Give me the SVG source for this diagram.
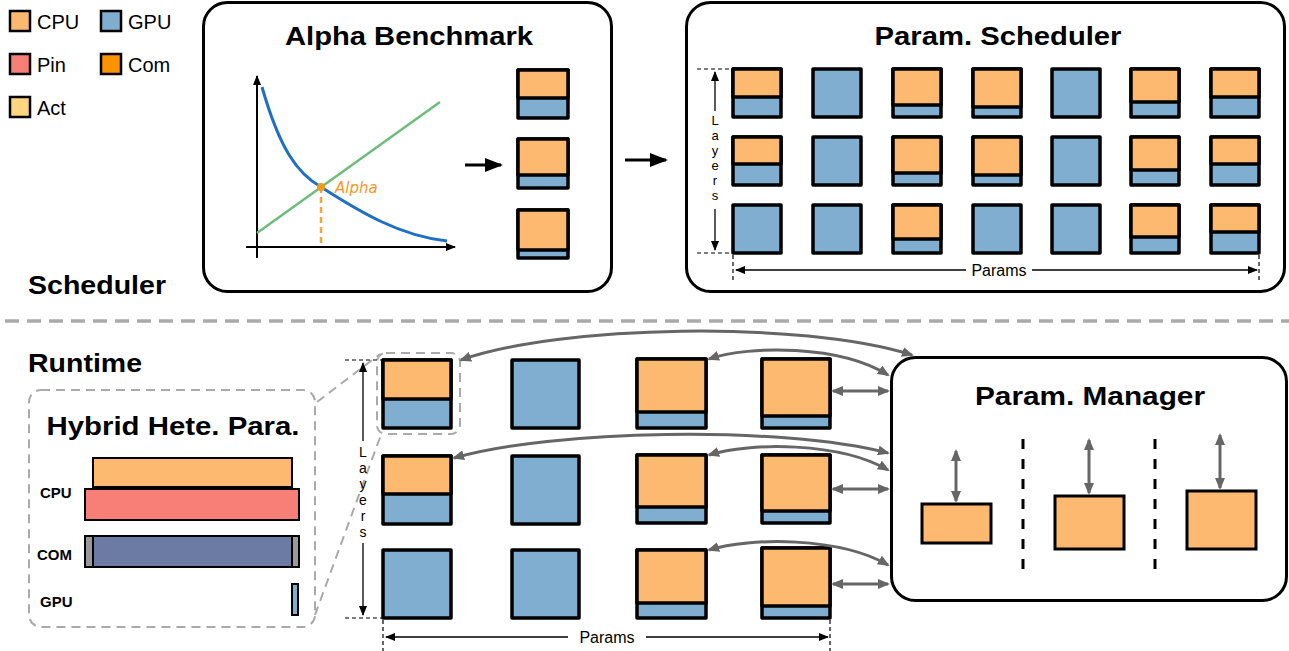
<svg xmlns="http://www.w3.org/2000/svg" width="1289" height="651" viewBox="0 0 1289 651">
<style>
text{font-family:"Liberation Sans",Arial,Helvetica,sans-serif;fill:#000}
.title{font-size:26px;font-weight:bold}
.leg{font-size:20px}
.lab{font-size:15px;font-weight:bold}
.ann{font-size:16px}
.lay{font-size:14px}
.lay2{font-size:13px}
.box{fill:#fff;stroke:#000;stroke-width:3}
.cpu{fill:#FDB96F;stroke:#000;stroke-width:3.5;stroke-linejoin:round}
.gpu{fill:#7FAED1;stroke:#000;stroke-width:3.5;stroke-linejoin:round}
.conn{fill:none;stroke:#666;stroke-width:3}
.anl{stroke:#000;stroke-width:1.3;fill:none}
.dash{stroke:#000;stroke-width:1.2;stroke-dasharray:4 3;fill:none}
.zoomd{fill:none;stroke:#aaa;stroke-width:2;stroke-dasharray:9 6}
</style>
<defs>
<marker id="aS" viewBox="0 0 10 8" markerWidth="10" markerHeight="8" refX="9" refY="4" orient="auto-start-reverse" markerUnits="userSpaceOnUse"><path d="M0,0 L10,4 L0,8 z" fill="#000"/></marker>
<marker id="aB" viewBox="0 0 18 14" markerWidth="18" markerHeight="14" refX="16" refY="7" orient="auto-start-reverse" markerUnits="userSpaceOnUse"><path d="M0,0 L18,7 L0,14 z" fill="#000"/></marker>
<marker id="aG" viewBox="0 0 12 10" markerWidth="12" markerHeight="10" refX="10" refY="5" orient="auto-start-reverse" markerUnits="userSpaceOnUse"><path d="M0,0 L12,5 L0,10 z" fill="#666"/></marker>
</defs>

<g id="legend">
<rect x="10" y="11" width="20" height="20" fill="#FDB96F" stroke="#000" stroke-width="2.5"/><text class="leg" x="37" y="29">CPU</text>
<rect x="101" y="11" width="20" height="20" fill="#7FAED1" stroke="#000" stroke-width="2.5"/><text class="leg" x="128" y="29">GPU</text>
<rect x="10" y="54" width="20" height="20" fill="#F87F78" stroke="#000" stroke-width="2.5"/><text class="leg" x="37" y="72">Pin</text>
<rect x="101" y="54" width="20" height="20" fill="#FF9200" stroke="#000" stroke-width="2.5"/><text class="leg" x="128" y="72">Com</text>
<rect x="10" y="97" width="20" height="20" fill="#FFD57F" stroke="#000" stroke-width="2.5"/><text class="leg" x="37" y="115">Act</text>
</g>

<text class="title" x="28" y="294" textLength="138" lengthAdjust="spacingAndGlyphs">Scheduler</text>
<text class="title" x="28" y="372" textLength="114" lengthAdjust="spacingAndGlyphs">Runtime</text>
<line x1="5" y1="321" x2="1289" y2="321" stroke="#aaa" stroke-width="3.5" stroke-dasharray="14 8"/>

<g id="alpha-benchmark">
<rect class="box" x="203.5" y="2.5" width="408" height="289" rx="24"/>
<text class="title" x="409" y="45" text-anchor="middle" textLength="248" lengthAdjust="spacingAndGlyphs">Alpha Benchmark</text>
<line x1="257" y1="258" x2="257" y2="76" stroke="#000" stroke-width="2" marker-end="url(#aS)"/>
<line x1="246" y1="247" x2="455" y2="247" stroke="#000" stroke-width="2" marker-end="url(#aS)"/>
<line x1="257" y1="233" x2="440" y2="102" stroke="#6DBD7A" stroke-width="2.5"/>
<path d="M262,87 C280,150 298,174 321,187 C360,212 400,236 447,241" fill="none" stroke="#1F6FC5" stroke-width="3"/>
<line x1="321" y1="187" x2="321" y2="244" stroke="#F6A33A" stroke-width="2.5" stroke-dasharray="6 4"/>
<circle cx="321" cy="187" r="4" fill="#F39A1E"/>
<text x="335" y="193" font-size="15" font-style="italic" style="fill:#F39A1E;font-family:'DejaVu Sans',sans-serif;font-weight:300">Alpha</text>
<line x1="465" y1="165" x2="501" y2="165" stroke="#000" stroke-width="3" marker-end="url(#aB)"/>
<rect class="gpu" x="518" y="70" width="50" height="48"/><rect class="cpu" x="518" y="70" width="50" height="28"/>
<rect class="gpu" x="518" y="139" width="50" height="49"/><rect class="cpu" x="518" y="139" width="50" height="36"/>
<rect class="gpu" x="518" y="210" width="50" height="48"/><rect class="cpu" x="518" y="210" width="50" height="40"/>
</g>

<g id="sched-arrow"><line x1="625" y1="160" x2="666" y2="160" stroke="#000" stroke-width="3" marker-end="url(#aB)"/></g>

<g id="param-scheduler">
<rect class="box" x="686.5" y="2.5" width="598" height="289" rx="24"/>
<text class="title" x="998" y="45" text-anchor="middle" textLength="247" lengthAdjust="spacingAndGlyphs">Param. Scheduler</text>
<rect class="gpu" x="733" y="69" width="48" height="48"/><rect class="cpu" x="733" y="69" width="48" height="28"/>
<rect class="gpu" x="813" y="69" width="48" height="48"/>
<rect class="gpu" x="893" y="69" width="48" height="48"/><rect class="cpu" x="893" y="69" width="48" height="36"/>
<rect class="gpu" x="973" y="69" width="48" height="48"/><rect class="cpu" x="973" y="69" width="48" height="38"/>
<rect class="gpu" x="1052" y="69" width="48" height="48"/>
<rect class="gpu" x="1131" y="69" width="48" height="48"/><rect class="cpu" x="1131" y="69" width="48" height="33"/>
<rect class="gpu" x="1211" y="69" width="48" height="48"/><rect class="cpu" x="1211" y="69" width="48" height="28"/>
<rect class="gpu" x="733" y="137" width="48" height="48"/><rect class="cpu" x="733" y="137" width="48" height="27"/>
<rect class="gpu" x="813" y="137" width="48" height="48"/>
<rect class="gpu" x="893" y="137" width="48" height="48"/><rect class="cpu" x="893" y="137" width="48" height="36"/>
<rect class="gpu" x="973" y="137" width="48" height="48"/><rect class="cpu" x="973" y="137" width="48" height="38"/>
<rect class="gpu" x="1052" y="137" width="48" height="48"/>
<rect class="gpu" x="1131" y="137" width="48" height="48"/><rect class="cpu" x="1131" y="137" width="48" height="33"/>
<rect class="gpu" x="1211" y="137" width="48" height="48"/><rect class="cpu" x="1211" y="137" width="48" height="27"/>
<rect class="gpu" x="733" y="205" width="48" height="48"/>
<rect class="gpu" x="813" y="205" width="48" height="48"/>
<rect class="gpu" x="893" y="205" width="48" height="48"/><rect class="cpu" x="893" y="205" width="48" height="34"/>
<rect class="gpu" x="973" y="205" width="48" height="48"/>
<rect class="gpu" x="1052" y="205" width="48" height="48"/>
<rect class="gpu" x="1131" y="205" width="48" height="48"/><rect class="cpu" x="1131" y="205" width="48" height="32"/>
<rect class="gpu" x="1211" y="205" width="48" height="48"/><rect class="cpu" x="1211" y="205" width="48" height="27"/>
<line class="dash" x1="697" y1="69" x2="733" y2="69"/>
<line class="dash" x1="697" y1="253" x2="733" y2="253"/>
<line class="anl" x1="715" y1="111" x2="715" y2="72" marker-end="url(#aS)"/>
<line class="anl" x1="715" y1="209" x2="715" y2="250" marker-end="url(#aS)"/>
<text class="lay2" x="715" y="125" text-anchor="middle">L</text><text class="lay2" x="715" y="140" text-anchor="middle">a</text><text class="lay2" x="715" y="155" text-anchor="middle">y</text><text class="lay2" x="715" y="170" text-anchor="middle">e</text><text class="lay2" x="715" y="185" text-anchor="middle">r</text><text class="lay2" x="715" y="200" text-anchor="middle">s</text>
<line class="dash" x1="733" y1="255" x2="733" y2="282"/>
<line class="dash" x1="1259" y1="255" x2="1259" y2="282"/>
<line class="anl" x1="966" y1="270" x2="736" y2="270" marker-end="url(#aS)"/>
<line class="anl" x1="1032" y1="270" x2="1257" y2="270" marker-end="url(#aS)"/>
<text class="ann" x="999" y="276" text-anchor="middle">Params</text>
</g>

<g id="hybrid-para">
<rect class="zoomd" x="29" y="390" width="286" height="237" rx="12"/>
<text class="title" x="173" y="435" text-anchor="middle" textLength="253" lengthAdjust="spacingAndGlyphs">Hybrid Hete. Para.</text>
<rect x="93" y="458" width="199" height="29" fill="#FDB96F" stroke="#000" stroke-width="2"/>
<rect x="85" y="489" width="214" height="31" fill="#F87F78" stroke="#000" stroke-width="2"/>
<rect x="85" y="536" width="214" height="31" fill="#6B7BA3" stroke="#000" stroke-width="2"/>
<rect x="85" y="536" width="8" height="31" fill="#999" stroke="#000" stroke-width="2"/>
<rect x="292" y="536" width="7" height="31" fill="#999" stroke="#000" stroke-width="2"/>
<rect x="292" y="584" width="6" height="31" fill="#7FAED1" stroke="#000" stroke-width="2"/>
<text class="lab" x="40" y="498">CPU</text>
<text class="lab" x="37" y="560">COM</text>
<text class="lab" x="40" y="607">GPU</text>
</g>

<g id="zoom-lines">
<line class="zoomd" x1="317" y1="402" x2="380" y2="354"/>
<line class="zoomd" x1="315" y1="615" x2="382" y2="432"/>
<rect class="zoomd" x="377" y="353" width="83" height="81" rx="9"/>
</g>

<g id="runtime-grid">
<rect class="gpu" x="383" y="360" width="68" height="68"/><rect class="cpu" x="383" y="360" width="68" height="39"/>
<rect class="gpu" x="512" y="360" width="67" height="68"/>
<rect class="gpu" x="637" y="359" width="69" height="69"/><rect class="cpu" x="637" y="359" width="69" height="53"/>
<rect class="gpu" x="762" y="359" width="68" height="69"/><rect class="cpu" x="762" y="359" width="68" height="57"/>
<rect class="gpu" x="383" y="456" width="68" height="68"/><rect class="cpu" x="383" y="456" width="68" height="38"/>
<rect class="gpu" x="512" y="456" width="67" height="68"/>
<rect class="gpu" x="637" y="455" width="69" height="68"/><rect class="cpu" x="637" y="455" width="69" height="52"/>
<rect class="gpu" x="762" y="455" width="68" height="68"/><rect class="cpu" x="762" y="455" width="68" height="56"/>
<rect class="gpu" x="383" y="550" width="68" height="68"/>
<rect class="gpu" x="512" y="550" width="67" height="68"/>
<rect class="gpu" x="637" y="550" width="69" height="68"/><rect class="cpu" x="637" y="550" width="69" height="53"/>
<rect class="gpu" x="762" y="548" width="68" height="70"/><rect class="cpu" x="762" y="548" width="68" height="58"/>
<line class="dash" x1="345" y1="360" x2="383" y2="360"/>
<line class="dash" x1="345" y1="618" x2="383" y2="618"/>
<line class="anl" x1="363" y1="441" x2="363" y2="363" marker-end="url(#aS)"/>
<line class="anl" x1="363" y1="543" x2="363" y2="615" marker-end="url(#aS)"/>
<text class="lay" x="363" y="457" text-anchor="middle">L</text><text class="lay" x="363" y="473" text-anchor="middle">a</text><text class="lay" x="363" y="489" text-anchor="middle">y</text><text class="lay" x="363" y="505" text-anchor="middle">e</text><text class="lay" x="363" y="521" text-anchor="middle">r</text><text class="lay" x="363" y="537" text-anchor="middle">s</text>
<line class="dash" x1="383" y1="620" x2="383" y2="651"/>
<line class="dash" x1="830" y1="620" x2="830" y2="651"/>
<line class="anl" x1="568" y1="637" x2="386" y2="637" marker-end="url(#aS)"/>
<line class="anl" x1="646" y1="637" x2="828" y2="637" marker-end="url(#aS)"/>
<text class="ann" x="607" y="643" text-anchor="middle">Params</text>
</g>

<g id="param-manager">
<rect class="box" x="891.5" y="357.5" width="395" height="243" rx="24"/>
<text class="title" x="1090" y="405" text-anchor="middle" textLength="230" lengthAdjust="spacingAndGlyphs">Param. Manager</text>
<rect x="922" y="504" width="69" height="39" fill="#FDB96F" stroke="#000" stroke-width="3"/>
<rect x="1055" y="496" width="69" height="53" fill="#FDB96F" stroke="#000" stroke-width="3"/>
<rect x="1187" y="491" width="69" height="58" fill="#FDB96F" stroke="#000" stroke-width="3"/>
<line x1="1023" y1="439" x2="1023" y2="573" stroke="#000" stroke-width="3" stroke-dasharray="10 10"/>
<line x1="1155" y1="439" x2="1155" y2="573" stroke="#000" stroke-width="3" stroke-dasharray="10 10"/>
</g>

<g id="connectors">
<line class="conn" x1="956" y1="451" x2="956" y2="501" marker-start="url(#aG)" marker-end="url(#aG)"/>
<line class="conn" x1="1089" y1="440" x2="1089" y2="493" marker-start="url(#aG)" marker-end="url(#aG)"/>
<line class="conn" x1="1220" y1="435" x2="1220" y2="488" marker-start="url(#aG)" marker-end="url(#aG)"/>
<path class="conn" d="M461,360 C560,325 800,320 912,355" marker-start="url(#aG)" marker-end="url(#aG)"/>
<path class="conn" d="M709,359 C750,345 840,345 888,375" marker-start="url(#aG)" marker-end="url(#aG)"/>
<line class="conn" x1="833" y1="391" x2="888" y2="391" marker-start="url(#aG)" marker-end="url(#aG)"/>
<path class="conn" d="M454,458 C550,430 780,425 888,453" marker-start="url(#aG)" marker-end="url(#aG)"/>
<path class="conn" d="M709,455 C750,442 840,442 888,470" marker-start="url(#aG)" marker-end="url(#aG)"/>
<line class="conn" x1="833" y1="489" x2="888" y2="489" marker-start="url(#aG)" marker-end="url(#aG)"/>
<path class="conn" d="M709,550 C750,537 840,537 888,565" marker-start="url(#aG)" marker-end="url(#aG)"/>
<line class="conn" x1="833" y1="584" x2="888" y2="584" marker-start="url(#aG)" marker-end="url(#aG)"/>
</g>
</svg>
